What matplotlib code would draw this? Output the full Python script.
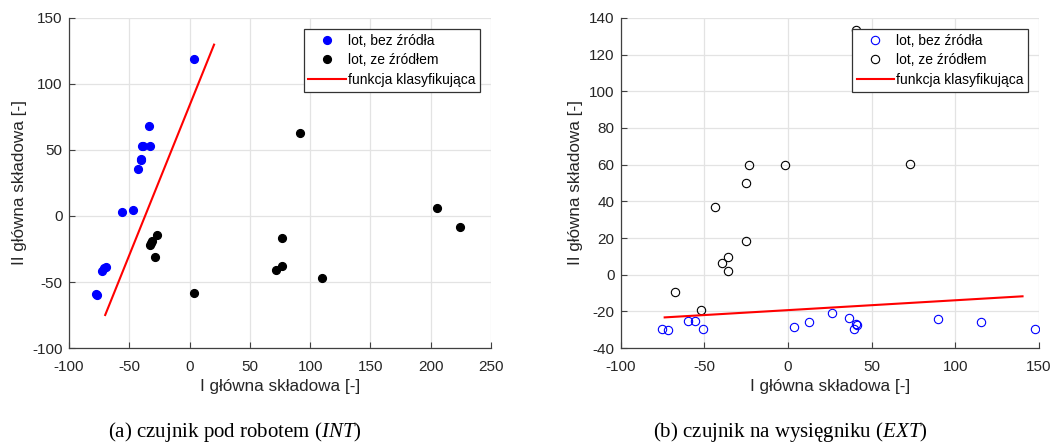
import matplotlib
matplotlib.use("Agg")
import matplotlib.pyplot as plt

plt.rcParams['font.family'] = ['Liberation Sans', 'DejaVu Sans']
plt.rcParams['axes.unicode_minus'] = False
plt.rcParams['mathtext.fontset'] = 'custom'
plt.rcParams['mathtext.rm'] = 'Liberation Serif'
plt.rcParams['mathtext.it'] = 'Liberation Serif:italic'

# INT sensor (under the robot)
int_free_x = [3.9, -33.4, -32.8, -39.7, -38.3, -40.6, -40.0, -42.5, -47.2, -56.3,
              -69.3, -71.0, -72.9, -77.1, -77.6]
int_free_y = [118.7, 68.2, 53.3, 52.8, 52.8, 43.2, 42.7, 35.6, 4.5, 3.0,
              -38.4, -39.6, -41.9, -60.0, -59.3]
int_src_x = [91.6, 205.2, 224.0, -26.7, -31.2, -32.8, -32.3, -28.4, 76.4, 77.0,
             71.4, 110.1, 3.4]
int_src_y = [63.1, 6.3, -8.1, -14.6, -19.2, -21.7, -20.5, -31.1, -16.9, -38.1,
             -40.7, -47.2, -58.6]
int_line_x = [-70.0, 20.3]
int_line_y = [-75.0, 129.8]

# EXT sensor (on the boom)
ext_free_x = [-75.3, -71.5, -60.0, -55.4, -50.6, 3.4, 12.5, 26.3, 36.7, 40.6,
              41.0, 39.4, 89.8, 115.1, 147.8]
ext_free_y = [-29.5, -30.0, -25.5, -25.5, -29.5, -28.7, -25.8, -20.7, -23.6, -26.9,
              -27.5, -29.8, -24.0, -25.6, -29.8]
ext_src_x = [40.6, 73.1, -1.6, -23.5, -25.3, -43.4, -24.9, -35.7, -39.2, -36.1,
             -67.5, -52.0]
ext_src_y = [133.3, 60.5, 59.6, 59.6, 49.8, 36.9, 18.4, 9.8, 6.5, 1.8,
             -9.5, -19.1]
ext_line_x = [-73.7, 140.2]
ext_line_y = [-23.3, -11.8]

labels = ['lot, bez źródła', 'lot, ze źródłem', 'funkcja klasyfikująca']
captions = [r'(a) czujnik pod robotem ($\mathit{INT}$)',
            r'(b) czujnik na wysięgniku ($\mathit{EXT}$)']

axc = '#404040'
txc = '#262626'

fig = plt.figure(figsize=(10.57, 4.46), dpi=100)
ax1 = fig.add_axes([0.0653, 0.2197, 0.3992, 0.74])
ax2 = fig.add_axes([0.5872, 0.2197, 0.3957, 0.74])


def style(ax, xlim, ylim, xticks, yticks):
    ax.set_xlim(*xlim)
    ax.set_ylim(*ylim)
    ax.set_xticks(xticks)
    ax.set_yticks(yticks)
    ax.grid(True, color='#e3e3e3', linewidth=0.9)
    ax.set_axisbelow(True)
    for s in ['top', 'right']:
        ax.spines[s].set_visible(False)
    for s in ['left', 'bottom']:
        ax.spines[s].set_color(axc)
        ax.spines[s].set_linewidth(0.9)
    ax.tick_params(direction='in', length=4, width=0.8, colors=axc,
                   labelcolor=txc, labelsize=11)
    ax.tick_params(axis='x', pad=8.5)
    ax.tick_params(axis='y', pad=4.5)
    ax.set_xlabel('I główna składowa [-]', fontsize=12.3, color=txc, labelpad=4)
    ax.set_ylabel('II główna składowa [-]', fontsize=12.3, color=txc, labelpad=4)


def legend(ax):
    leg = ax.legend(loc='upper right', bbox_to_anchor=(0.975, 0.967),
                    borderaxespad=0, fancybox=False, framealpha=1,
                    edgecolor='#333333', fontsize=10, handlelength=2.7,
                    handletextpad=0.15, borderpad=0.35, labelspacing=0.4)
    leg.get_frame().set_linewidth(0.9)
    leg.set_zorder(5)


# left panel: filled markers
ax1.plot(int_free_x, int_free_y, 'o', color='blue', markersize=5.6, label=labels[0])
ax1.plot(int_src_x, int_src_y, 'o', color='black', markersize=5.6, label=labels[1])
ax1.plot(int_line_x, int_line_y, '-', color='red', linewidth=1.5, label=labels[2])
style(ax1, (-100, 250), (-100, 150), range(-100, 251, 50), range(-100, 151, 50))
legend(ax1)

# right panel: open markers
ax2.plot(ext_free_x, ext_free_y, 'o', mfc='none', mec='blue', mew=0.8,
         markersize=6, label=labels[0])
ax2.plot(ext_src_x, ext_src_y, 'o', mfc='none', mec='black', mew=0.8,
         markersize=6, label=labels[1])
ax2.plot(ext_line_x, ext_line_y, '-', color='red', linewidth=1.5, label=labels[2])
style(ax2, (-100, 150), (-40, 140), range(-100, 151, 50), range(-40, 141, 20))
legend(ax2)

fig.text(0.2222, 0.02, captions[0], ha='center', va='baseline',
         family='Liberation Serif', fontsize=15, color='black')
fig.text(0.7474, 0.02, captions[1], ha='center', va='baseline',
         family='Liberation Serif', fontsize=15, color='black')

fig.savefig('out.png', dpi=100)
